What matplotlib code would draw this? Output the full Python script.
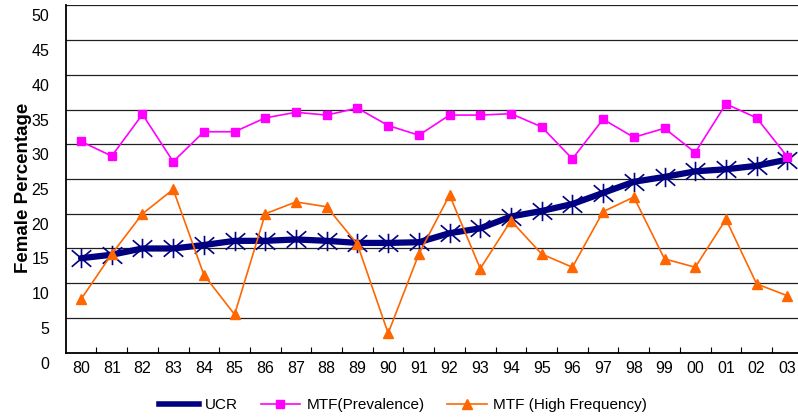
import matplotlib
matplotlib.use("Agg")
import matplotlib.pyplot as plt
from matplotlib.lines import Line2D
from matplotlib.path import Path
import matplotlib.transforms as mtransforms
import numpy as np

plt.rcParams['font.family'] = ['Liberation Sans', 'DejaVu Sans']

years = ["80", "81", "82", "83", "84", "85", "86", "87", "88", "89", "90", "91",
         "92", "93", "94", "95", "96", "97", "98", "99", "00", "01", "02", "03"]
ucr = [13.6, 14.1, 15.0, 15.0, 15.5, 16.1, 16.1, 16.3, 16.1, 15.8, 15.8, 15.9,
       17.2, 17.9, 19.6, 20.4, 21.4, 23.0, 24.6, 25.3, 26.1, 26.4, 26.9, 27.8]
mtf_prev = [30.4, 28.3, 34.3, 27.5, 31.8, 31.8, 33.8, 34.6, 34.2, 35.2, 32.7, 31.3,
            34.2, 34.2, 34.4, 32.5, 27.9, 33.6, 31.0, 32.3, 28.8, 35.8, 33.8, 28.2]
mtf_high = [7.7, 14.2, 20.0, 23.5, 11.2, 5.5, 20.0, 21.7, 21.0, 15.6, 2.8, 14.2,
            22.7, 12.1, 19.0, 14.2, 12.3, 20.3, 22.4, 13.5, 12.3, 19.2, 9.9, 8.2]
y_ticks = [0, 5, 10, 15, 20, 25, 30, 35, 40, 45, 50]

W, H = 798, 419
fig = plt.figure(figsize=(W / 100, H / 100), dpi=100)
ax = fig.add_axes([65.7 / W, (H - 352.7) / H, (802.7 - 65.7) / W, (352.7 - 5.3) / H])

x = np.arange(len(years))

star = Path([(0, -1), (0, 1), (-1, -0.85), (1, 0.85), (-1, 0.85), (1, -0.85)],
            [Path.MOVETO, Path.LINETO, Path.MOVETO, Path.LINETO, Path.MOVETO, Path.LINETO])

navy = '#000080'
magenta = '#FF00FF'
orange = '#FF6600'

ax.plot(x, ucr, color=navy, lw=4.5, solid_capstyle='round', zorder=3)
ax.plot(x, ucr, linestyle='none', marker=star, markersize=14, markeredgecolor=navy,
        markerfacecolor='none', markeredgewidth=1.2, zorder=4)
ax.plot(x, mtf_prev, color=magenta, lw=1.2, marker='s', markersize=6,
        markerfacecolor=magenta, markeredgecolor=magenta, zorder=5)
ax.plot(x, mtf_high, color=orange, lw=1.2, marker='^', markersize=7.5,
        markerfacecolor=orange, markeredgecolor=orange, zorder=6)

ax.set_xlim(-0.5, len(years) - 0.5)
ax.set_ylim(0, 50)
ax.set_yticks(y_ticks)
ax.set_yticklabels([str(v) for v in y_ticks])
ax.set_xticks(x)
ax.set_xticklabels(years)
ax.set_xticks(np.arange(0.5, len(years) - 0.5, 1), minor=True)

ax.tick_params(axis='y', length=0, pad=12, labelsize=11.5)
ax.tick_params(axis='x', which='major', length=0, pad=6, labelsize=11.5)
ax.tick_params(axis='x', which='minor', direction='in', length=4, width=0.8, color='black')

offset = mtransforms.ScaledTranslation(0, -10 / 100, fig.dpi_scale_trans)
for lab in ax.get_yticklabels():
    lab.set_transform(lab.get_transform() + offset)

ax.grid(axis='y', color='#202020', lw=0.9, zorder=0)
ax.set_axisbelow(True)
for s in ['top', 'right']:
    ax.spines[s].set_visible(False)
ax.spines['left'].set_linewidth(1.3)
ax.spines['bottom'].set_linewidth(1.3)

ax.set_ylabel("Female Percentage", fontsize=13.5, fontweight='bold')
ax.yaxis.set_label_coords(-0.046, 0.474)

handles = [
    Line2D([], [], color=navy, lw=4),
    Line2D([], [], color=magenta, lw=1.2, marker='s', markersize=6),
    Line2D([], [], color=orange, lw=1.2, marker='^', markersize=7.5),
]
labels = ["UCR", "MTF(Prevalence)", "MTF (High Frequency)"]
fig.legend(handles, labels, loc='center', bbox_to_anchor=(0.505, 0.033), ncol=3,
           frameon=False, fontsize=11, handlelength=2.6, handletextpad=0.4,
           columnspacing=1.5)

fig.savefig("out.png", dpi=100)
